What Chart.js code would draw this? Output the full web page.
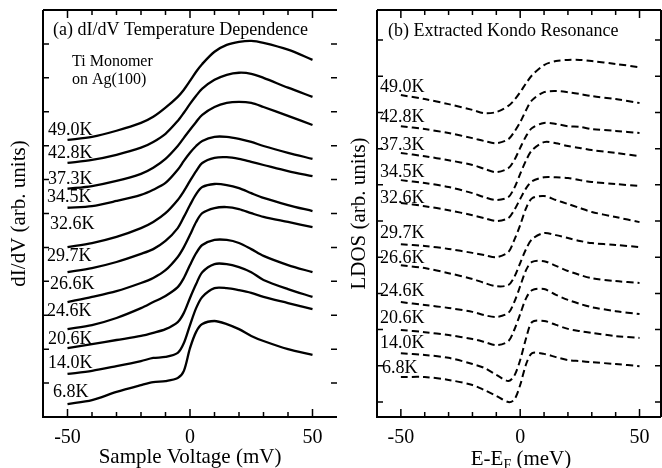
<!DOCTYPE html>
<html lang="en">
<head>
<meta charset="UTF-8">
<title>Ti monomer Kondo resonance</title>
<script src="https://cdn.jsdelivr.net/npm/chart.js"></script>
<style>
  body { margin: 0; background: #fff; }
  #wrap { position: relative; width: 662px; height: 468px; }
  canvas { position: absolute; top: 0; }
  #chartA { left: 0; }
  #chartB { left: 340px; }
</style>
</head>
<body>
<div id="wrap">
  <canvas id="chartA" width="340" height="468"></canvas>
  <canvas id="chartB" width="322" height="468"></canvas>
</div>
<script>
// temperatures, top curve first
const temps = ['49.0K', '42.8K', '37.3K', '34.5K', '32.6K', '29.7K', '26.6K', '24.6K', '20.6K', '14.0K', '6.8K'];

// (a) sample voltage, mV
const bias = [-50, -40, -30, -20, -15, -10, -5, -2.5, 0, 2.5, 5, 10, 15, 20, 25, 30, 40, 50];
// dI/dV, arb. units (curves offset)
const didv49_0 = [81.7, 82.6, 84.4, 86.7, 88.5, 91.2, 94.4, 96.5, 99.1, 101.8, 104.1, 107.7, 109.7, 110.6, 110.9, 110.3, 108.3, 105.3];
const didv42_8 = [74.9, 75.8, 77.3, 79.4, 81.1, 83.5, 87.3, 89.7, 92.3, 94.7, 96.8, 99.4, 100.9, 101.5, 101.2, 100.0, 97.1, 94.4];
const didv37_3 = [67.3, 68.1, 69.6, 71.7, 73.5, 76.1, 79.9, 82.3, 84.7, 87.0, 89.1, 91.4, 92.6, 92.9, 92.6, 91.4, 88.8, 86.1];
const didv34_5 = [61.7, 62.2, 63.7, 65.5, 67.0, 69.0, 72.9, 75.5, 77.9, 79.9, 81.4, 82.6, 82.6, 82.0, 81.1, 79.9, 77.9, 76.1];
const didv32_6 = [50.1, 51.3, 53.1, 55.7, 57.5, 60.1, 64.0, 66.6, 69.6, 72.5, 74.9, 76.4, 76.6, 76.1, 75.2, 74.3, 72.5, 71.0];
const didv29_7 = [42.7, 43.9, 45.7, 48.1, 49.5, 51.9, 55.7, 59.0, 62.5, 65.7, 67.8, 68.7, 68.4, 67.5, 66.0, 64.6, 62.5, 60.7];
const didv26_6 = [33.9, 35.4, 37.1, 39.5, 41.0, 43.3, 47.2, 50.1, 53.7, 57.5, 60.1, 61.6, 61.9, 61.3, 60.1, 59.0, 57.5, 56.0];
const didv24_6 = [25.9, 27.1, 29.2, 32.1, 33.9, 35.7, 38.3, 41.0, 44.8, 48.3, 50.7, 52.2, 52.2, 51.3, 49.5, 47.5, 44.8, 42.7];
const didv20_6 = [20.3, 21.5, 22.7, 23.9, 24.8, 25.9, 28.0, 30.7, 35.1, 39.2, 42.7, 45.1, 45.1, 44.2, 42.7, 40.4, 37.7, 35.4];
const didv14_0 = [12.7, 13.6, 15.0, 16.5, 17.4, 17.7, 18.9, 21.8, 27.1, 32.1, 35.4, 38.0, 38.0, 37.4, 36.6, 35.4, 33.6, 31.8];
const didv6_8 = [3.8, 5.0, 7.4, 9.4, 10.3, 10.6, 11.5, 13.6, 20.3, 25.1, 27.4, 28.3, 27.4, 25.9, 23.9, 22.4, 20.0, 18.3];

// (b) E - E_F, meV
const energy = [-50, -40, -30, -20, -15, -10, -5, -2.5, 0, 2.5, 5, 10, 15, 20, 25, 30, 40, 50];
// LDOS, arb. units (curves offset)
const ldos49_0 = [84.8, 83.7, 82.3, 80.7, 79.8, 80.1, 81.8, 83.4, 85.6, 88.1, 90.3, 93.1, 94.2, 94.5, 94.5, 94.2, 93.4, 92.5];
const ldos42_8 = [76.2, 75.4, 74.3, 72.9, 72.1, 71.5, 72.6, 74.6, 77.3, 80.7, 83.4, 85.6, 85.9, 85.6, 85.1, 84.5, 83.7, 82.6];
const ldos37_3 = [68.8, 67.9, 66.8, 65.5, 64.4, 63.5, 64.6, 66.8, 70.2, 73.5, 75.7, 77.1, 76.8, 76.2, 76.0, 75.4, 74.9, 74.3];
const ldos34_5 = [61.3, 60.5, 59.4, 57.7, 56.6, 55.8, 56.6, 59.1, 63.0, 66.8, 69.6, 71.8, 71.5, 70.7, 70.2, 69.6, 68.8, 67.9];
const ldos32_6 = [55.0, 54.1, 53.0, 51.6, 50.8, 50.0, 50.8, 53.0, 56.1, 59.1, 61.0, 62.1, 62.1, 61.9, 61.3, 60.8, 60.2, 59.7];
const ldos29_7 = [43.6, 43.1, 42.3, 41.2, 40.6, 40.0, 41.4, 44.7, 48.9, 53.6, 56.3, 56.9, 55.8, 54.7, 53.6, 52.5, 51.1, 49.7];
const ldos26_6 = [37.8, 37.0, 35.6, 34.0, 32.9, 32.0, 32.3, 34.5, 38.4, 42.3, 45.0, 46.7, 46.1, 45.3, 44.5, 43.9, 43.4, 42.8];
const ldos24_6 = [27.6, 26.8, 26.0, 24.9, 24.0, 23.5, 24.6, 27.6, 32.0, 36.5, 38.7, 38.9, 37.6, 36.2, 35.1, 34.2, 33.4, 32.9];
const ldos20_6 = [19.9, 19.3, 18.5, 17.4, 16.6, 15.7, 16.8, 19.9, 24.3, 28.7, 30.9, 31.2, 29.6, 28.2, 27.1, 26.2, 25.1, 24.3];
const ldos14_0 = [13.5, 13.0, 12.2, 10.5, 9.4, 7.5, 5.8, 7.2, 11.6, 17.7, 22.1, 22.4, 21.3, 20.2, 19.6, 19.1, 18.2, 17.7];
const ldos6_8 = [6.9, 6.9, 6.1, 4.7, 3.3, 1.7, 0.0, 0.6, 4.7, 10.5, 13.5, 13.3, 12.4, 11.6, 11.3, 11.0, 10.5, 9.9];

const didvSeries = [didv49_0, didv42_8, didv37_3, didv34_5, didv32_6, didv29_7, didv26_6, didv24_6, didv20_6, didv14_0, didv6_8];
const ldosSeries = [ldos49_0, ldos42_8, ldos37_3, ldos34_5, ldos32_6, ldos29_7, ldos26_6, ldos24_6, ldos20_6, ldos14_0, ldos6_8];

const serif = '"Liberation Serif", "Times New Roman", serif';

// frame, inward ticks, panel title and curve labels
const panelDecor = {
  id: 'panelDecor',
  afterDraw(chart, args, o) {
    const ctx = chart.ctx;
    const a = chart.chartArea;
    const xs = chart.scales.x, ys = chart.scales.y;
    ctx.save();
    ctx.strokeStyle = '#000';
    ctx.lineWidth = 2;
    ctx.beginPath();
    ctx.moveTo(a.left, a.top); ctx.lineTo(a.right, a.top);
    ctx.moveTo(a.left, a.top); ctx.lineTo(a.left, a.bottom); ctx.lineTo(a.right, a.bottom);
    if (o.rightBorder) { ctx.moveTo(a.right, a.top); ctx.lineTo(a.right, a.bottom); }
    ctx.stroke();

    ctx.lineWidth = 1.5;
    ctx.beginPath();
    xs.ticks.forEach(t => {
      const x = xs.getPixelForValue(t.value);
      if (x < a.left + 3 || x > a.right - 3) return;
      const len = t.value % 50 === 0 ? 8 : 5;
      ctx.moveTo(x, a.bottom); ctx.lineTo(x, a.bottom - len);
      ctx.moveTo(x, a.top); ctx.lineTo(x, a.top + len);
    });
    ys.ticks.forEach(t => {
      const y = ys.getPixelForValue(t.value);
      if (y < a.top + 3 || y > a.bottom - 3) return;
      ctx.moveTo(a.left, y); ctx.lineTo(a.left + 6, y);
      ctx.moveTo(a.right, y); ctx.lineTo(a.right - 6, y);
    });
    ctx.stroke();

    ctx.fillStyle = '#000';
    ctx.textAlign = 'left';
    ctx.textBaseline = 'middle';
    ctx.font = '18px ' + serif;
    ctx.fillText(o.title, a.left + o.titleDx, a.top + o.titleDy);

    chart.data.datasets.forEach((ds, i) => {
      const p = chart.getDatasetMeta(i).data[0];
      ctx.fillText(ds.label, a.left + o.labelDx[i], p.y - o.labelLift[i]);
    });

    if (o.note) {
      ctx.font = '16px ' + serif;
      o.note.forEach((line, k) => ctx.fillText(line, a.left + 29, a.top + 52 + k * 18));
    }

    if (o.xTitle) {
      // E-E_F (meV) with subscript
      ctx.textBaseline = 'alphabetic';
      const big = '21px ' + serif, small = '14px ' + serif;
      ctx.font = big; const w1 = ctx.measureText('E-E').width; const w3 = ctx.measureText(' (meV)').width;
      ctx.font = small; const w2 = ctx.measureText('F').width;
      let x = (a.left + a.right) / 2 + 2 - (w1 + w2 + w3) / 2;
      const base = chart.height - 3;
      ctx.font = big; ctx.fillText('E-E', x, base); x += w1;
      ctx.font = small; ctx.fillText('F', x, base + 4); x += w2;
      ctx.font = big; ctx.fillText(' (meV)', x, base);
    }
    ctx.restore();
  }
};

function makePanel(id, xVals, series, opt) {
  const datasets = series.map((vals, i) => ({
    label: temps[i],
    data: xVals.map((x, k) => ({ x: x, y: vals[k] })),
    borderColor: '#000',
    borderWidth: opt.dashed ? 2 : 2.3,
    borderDash: opt.dashed ? [7, 4] : [],
    pointRadius: 0,
    fill: false,
    tension: 0.3
  }));
  return new Chart(document.getElementById(id), {
    type: 'line',
    data: { datasets: datasets },
    options: {
      responsive: false,
      animation: false,
      events: [],
      layout: { padding: { top: 10, right: opt.padRight, bottom: 0, left: 0 } },
      plugins: {
        legend: { display: false },
        tooltip: { enabled: false },
        panelDecor: opt.decor
      },
      scales: {
        x: {
          type: 'linear',
          min: opt.xMin, max: opt.xMax,
          afterFit: s => { s.height = 51; },
          grid: { display: false },
          border: { display: false },
          ticks: {
            stepSize: 10,
            includeBounds: false,
            autoSkip: false,
            maxRotation: 0,
            padding: 1,
            color: '#000',
            font: { family: serif, size: 20 },
            callback: v => (v % 50 === 0 && Math.abs(v) <= 50) ? String(v) : ''
          },
          title: {
            display: !!opt.xTitle,
            text: opt.xTitle || '',
            color: '#000',
            font: { family: serif, size: 21, lineHeight: 1 },
            padding: 0
          }
        },
        y: {
          min: opt.yMin, max: opt.yMax,
          afterFit: s => { s.width = opt.yWidth; },
          grid: { display: false },
          border: { display: false },
          ticks: { display: false, stepSize: 10, includeBounds: false },
          title: {
            display: true,
            text: opt.yTitle,
            color: '#000',
            font: { family: serif, size: 21, lineHeight: 1 },
            padding: { top: 9, bottom: 0 }
          }
        }
      }
    },
    plugins: [panelDecor]
  });
}

makePanel('chartA', bias, didvSeries, {
  dashed: false,
  xMin: -60, xMax: 60, yMin: 0, yMax: 120,
  yWidth: 43, padRight: 3,
  xTitle: 'Sample Voltage (mV)',
  yTitle: 'dI/dV (arb. units)',
  decor: {
    title: '(a) dI/dV Temperature Dependence',
    titleDx: 10, titleDy: 20,
    rightBorder: false,
    note: ['Ti Monomer', 'on Ag(100)'],
    labelDx: [5, 5, 5, 4, 7, 4, 7, 4, 5, 5, 10],
    labelLift: [10, 10, 9, 10, 23, 16, 18, 18, 9, 11, 12]
  }
});

makePanel('chartB', energy, ldosSeries, {
  dashed: true,
  xMin: -60, xMax: 59, yMin: -4.14, yMax: 108.3,
  yWidth: 37, padRight: 1,
  xTitle: null,
  yTitle: 'LDOS (arb. units)',
  decor: {
    title: '(b) Extracted Kondo Resonance',
    titleDx: 11, titleDy: 21,
    rightBorder: true,
    xTitle: true,
    labelDx: [3, 3, 3, 3, 3, 3, 3, 3, 3, 3, 5],
    labelLift: [8, 9, 8, 8, 5, 11, 7, 11, 12, 10, 9]
  }
});
</script>
</body>
</html>
